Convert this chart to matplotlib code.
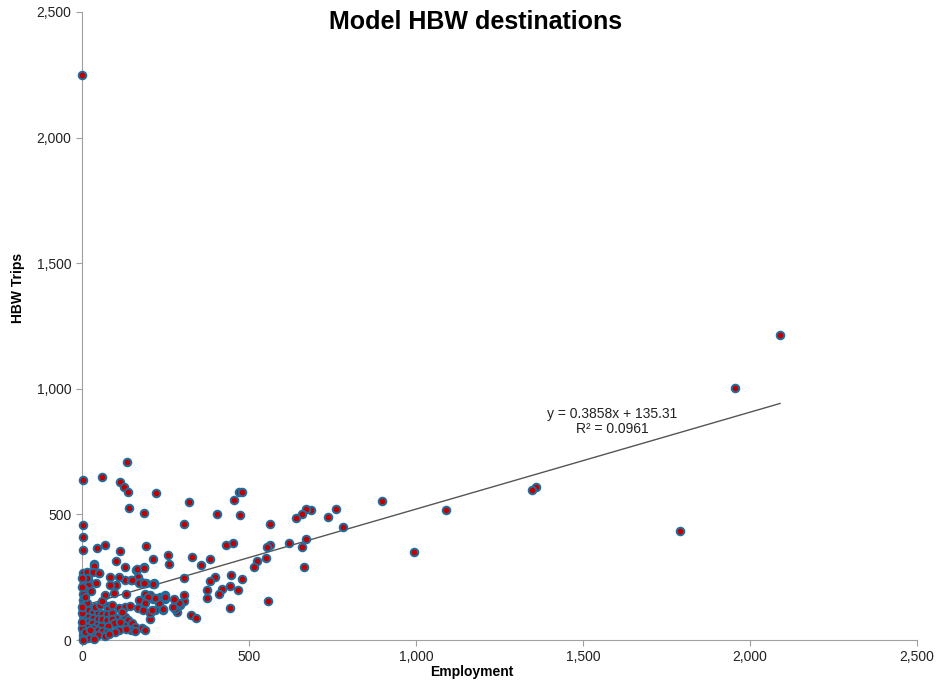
import matplotlib.pyplot as plt
from matplotlib.ticker import FuncFormatter

plt.rcParams['font.family'] = ['Liberation Sans', 'DejaVu Sans']

# Employment (x) and HBW trips (y) per zone
employment = [
    0, 2090, 1955, 1790, 1360, 1348, 1090, 994, 899, 782, 759, 736,
    685, 670, 658, 641, 672, 660, 664, 621, 563, 555, 563, 550, 523, 514, 558,
    471, 478, 474, 455, 432, 451, 404, 446, 479, 442, 468, 418, 410, 444, 397, 383,
    321, 305, 328, 356, 384, 305, 374, 374, 325, 341, 304, 305, 293, 291, 283, 279, 275,
    223, 212, 216, 257, 260, 204, 212, 234, 248, 248, 230, 218, 244, 204, 204,
    272, 243, 243, 248, 216, 210, 218,
    136, 115, 126, 137, 141, 187, 115, 193, 101, 128, 187, 161, 128, 146, 169, 176,
    193, 110, 132, 189, 199, 171, 188, 112, 130, 144, 169, 182, 166, 186, 151, 102,
    172, 186, 213,
    3, 61, 3, 3, 3, 46, 68, 36, 37, 3, 21, 51, 16, 34, 50, 17, 84, 3, 3, 19, 83, 41,
    5, 3, 69, 96, 3, 3, 16, 79, 79, 16,
    3, 19, 33, 47, 61, 75, 89, 103, 3, 19, 33, 47, 61, 75, 89, 95, 3, 17, 31, 45,
    58, 79, 3, 15, 33, 47, 61, 75, 3, 17, 31, 49, 69, 3, 19, 35, 3, 129, 139, 127,
    149, 159, 179, 147, 159, 189, 131, 112, 99, 82, 3, 0, 0, 0, 0, 0, 0, 8, 25, 40,
    55, 10, 28, 60, 90, 115, 120,
]
hbw_trips = [
    2250, 1215, 1003, 432, 609, 597, 516, 349, 553, 449, 521, 490,
    519, 521, 502, 485, 403, 369, 289, 385, 377, 371, 462, 325, 316, 292, 155,
    588, 588, 499, 556, 379, 387, 500, 260, 243, 214, 200, 202, 182, 129, 252, 234,
    548, 462, 332, 300, 324, 248, 200, 168, 98, 89, 154, 179, 138, 148, 110, 125, 162,
    585, 322, 226, 337, 301, 179, 162, 171, 178, 164, 147, 119, 118, 85, 106,
    133, 122, 172, 170, 224, 119, 167,
    710, 628, 608, 588, 525, 506, 354, 375, 316, 289, 289, 277, 240, 239, 251, 231,
    226, 252, 182, 183, 170, 159, 146, 129, 133, 135, 126, 118, 281, 288, 239, 218,
    226, 226, 224,
    638, 650, 459, 411, 358, 366, 379, 301, 296, 267, 265, 267, 272, 272, 268, 242,
    251, 242, 219, 219, 220, 226, 202, 183, 179, 186, 158, 141, 147, 135, 124, 245,
    119, 119, 110, 106, 103, 103, 106, 86, 99, 93, 89, 84, 82, 80, 84, 66, 80, 73, 66,
    60, 57, 57, 60, 53, 46, 40, 37, 33, 37, 29, 24, 20, 16, 20, 7, 3, 3, 93, 80, 60,
    66, 53, 49, 40, 37, 40, 42, 40, 33, 22, 0, 46, 73, 106, 133, 212, 245, 30, 40, 130,
    140, 170, 195, 155, 140, 70, 110,
]

# Linear trend (Excel style)
slope = 0.3858
intercept = 135.31
trend_x = [0, max(employment)]
trend_y = [slope * v + intercept for v in trend_x]

fig = plt.figure(figsize=(9.37, 6.87), dpi=100)
ax = fig.add_axes([82 / 937, 1 - 640 / 687, (917 - 82) / 937, (640 - 12) / 687])

ax.plot(trend_x, trend_y, color='#555555', linewidth=1.0, zorder=2)
ax.scatter(employment, hbw_trips, s=30, facecolor='#C00000', edgecolor='#1F6E9E',
           linewidth=1.4, zorder=3, clip_on=False)

ax.text(1587, 870, 'y = 0.3858x + 135.31\nR² = 0.0961', ha='center', va='center',
        fontsize=10, color='#222222', linespacing=1.1)

ax.set_xlim(0, 2500)
ax.set_ylim(0, 2500)
ax.set_xticks(range(0, 2501, 500))
ax.set_yticks(range(0, 2501, 500))
comma = FuncFormatter(lambda v, p: f'{int(v):,}')
ax.xaxis.set_major_formatter(comma)
ax.yaxis.set_major_formatter(comma)

for side in ['top', 'right']:
    ax.spines[side].set_visible(False)
for side in ['left', 'bottom']:
    ax.spines[side].set_color('#A0A0A0')
ax.tick_params(colors='#A0A0A0', labelcolor='#222222', labelsize=10, length=4)

fig.text(476 / 937, 1 - 22 / 687, 'Model HBW destinations', ha='center', va='center',
         fontsize=18, fontweight='bold')
fig.text(472 / 937, 1 - 672 / 687, 'Employment', ha='center', va='center',
         fontsize=10, fontweight='bold')
fig.text(18 / 937, 1 - 288 / 687, 'HBW Trips', ha='center', va='center',
         rotation=90, fontsize=10, fontweight='bold')

fig.savefig('out.png', dpi=100, facecolor='white')
